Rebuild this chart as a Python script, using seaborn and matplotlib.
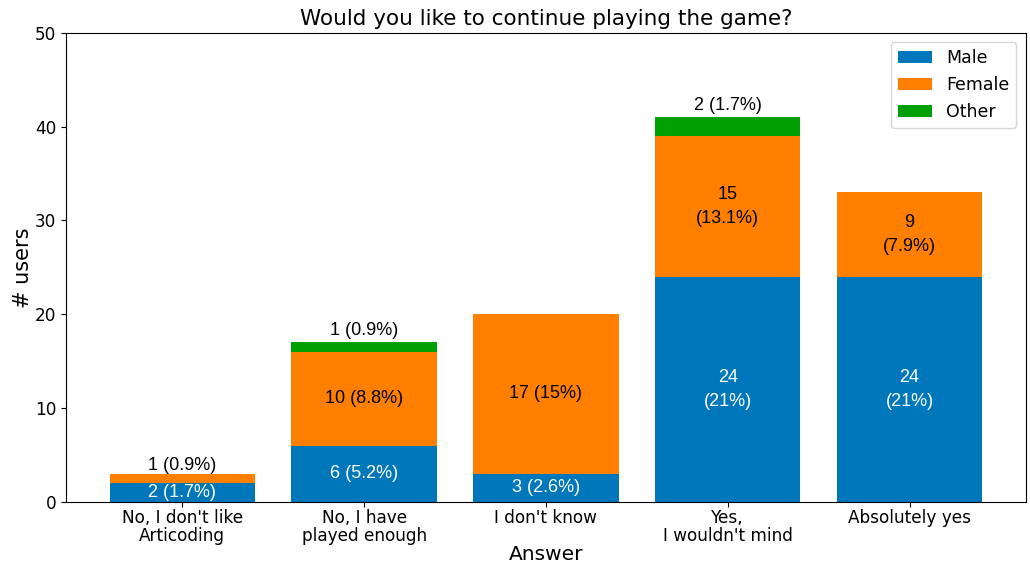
import matplotlib
matplotlib.use("Agg")
import matplotlib.pyplot as plt
import seaborn as sns
import numpy as np

# data
answers = ["No, I don't like\nArticoding", "No, I have\nplayed enough", "I don't know",
           "Yes,\nI wouldn't mind", "Absolutely yes"]
male = [2, 6, 3, 24, 24]
female = [1, 10, 17, 15, 9]
other = [0, 1, 0, 2, 0]
male_labels = ["2 (1.7%)", "6 (5.2%)", "3 (2.6%)", "24\n(21%)", "24\n(21%)"]
female_labels = ["1 (0.9%)", "10 (8.8%)", "17 (15%)", "15\n(13.1%)", "9\n(7.9%)"]
other_labels = ["", "1 (0.9%)", "", "2 (1.7%)", ""]

colors = {'Male': '#0077BB', 'Female': '#FF7F00', 'Other': '#00A000'}

fig, ax = plt.subplots(figsize=(10.3, 5.67), dpi=100)
fig.subplots_adjust(left=0.064, right=0.996, top=0.942, bottom=0.115)

male_arr = np.array(male)
female_arr = np.array(female)
mf = male_arr + female_arr

sns.barplot(x=answers, y=male, color=colors['Male'], saturation=1, linewidth=0,
            label='Male', ax=ax)
sns.barplot(x=answers, y=female, bottom=male_arr, color=colors['Female'], saturation=1,
            linewidth=0, label='Female', ax=ax)
sns.barplot(x=answers, y=other, bottom=mf, color=colors['Other'], saturation=1,
            linewidth=0, label='Other', ax=ax)

lab_font = dict(family='Liberation Sans', fontsize=13)
for i in range(len(answers)):
    # male segment - white text in the middle
    ax.text(i, male[i] / 2, male_labels[i], ha='center', va='center', color='white',
            linespacing=1.55, **lab_font)
    # female segment
    if female[i] >= 2:
        ax.text(i, male[i] + female[i] / 2, female_labels[i], ha='center', va='center',
                color='black', linespacing=1.55, **lab_font)
    else:
        ax.annotate(female_labels[i], (i, mf[i]), xytext=(0, 0), textcoords='offset points',
                    ha='center', va='bottom', color='black', **lab_font)
    # other segment - above the bar
    if other[i] > 0:
        ax.annotate(other_labels[i], (i, mf[i] + other[i]), xytext=(0, 2.5),
                    textcoords='offset points', ha='center', va='bottom', color='black',
                    **lab_font)

ax.set_xlim(-0.64, 4.64)
ax.set_ylim(0, 50)
ax.set_yticks([0, 10, 20, 30, 40, 50])
ax.tick_params(labelsize=12.2)
ax.tick_params(axis='x', pad=1.5)
for t in ax.get_xticklabels():
    t.set_linespacing(1.05)
ax.set_title('Would you like to continue playing the game?', fontsize=15.5)
ax.set_xlabel('Answer', fontsize=14.5, labelpad=0)
ax.set_ylabel('# users', fontsize=15, labelpad=1)
ax.legend(loc='upper right', fontsize=12.5, borderaxespad=0.55)

plt.savefig('out.png', dpi=100)
